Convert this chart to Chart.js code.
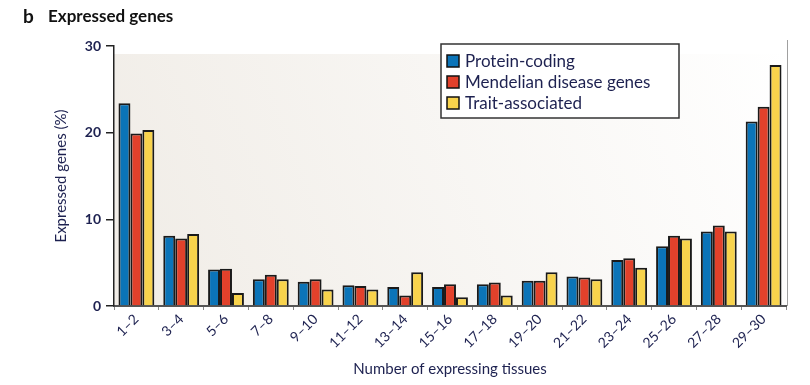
<!DOCTYPE html>
<html>
<head>
<meta charset="utf-8">
<script src="https://cdn.jsdelivr.net/npm/chart.js@4.4.1/dist/chart.umd.min.js"></script>
<style>
  html, body { margin: 0; padding: 0; background: #ffffff; }
  #wrap { width: 810px; height: 385px; position: relative; }
</style>
</head>
<body>
<div id="wrap"><canvas id="chart" width="810" height="385"></canvas></div>
<script>
// データ
const categories = ['1–2', '3–4', '5–6', '7–8', '9–10', '11–12', '13–14', '15–16',
                    '17–18', '19–20', '21–22', '23–24', '25–26', '27–28', '29–30'];
const proteinCoding = [23.4, 8.1, 4.2, 3.1, 2.8, 2.4, 2.2, 2.2, 2.5, 2.9, 3.4, 5.3, 6.9, 8.6, 21.3];
const mendelian     = [19.9, 7.8, 4.3, 3.6, 3.1, 2.3, 1.2, 2.5, 2.7, 2.9, 3.3, 5.5, 8.1, 9.3, 23.0];
const traitAssoc    = [20.3, 8.3, 1.5, 3.1, 1.9, 1.9, 3.9, 1.0, 1.2, 3.9, 3.1, 4.4, 7.8, 8.6, 27.8];
const yTicks = [0, 10, 20, 30];

const NAVY = '#1d2150';
const FONT = 'Lato, "Open Sans", sans-serif';

/**
 * プロット背景（薄いグラデーション）
 */
const panelBg = {
    id: 'panelBg',
    beforeDraw(chart) {
        const { ctx, chartArea: a } = chart;
        const g = ctx.createLinearGradient(a.left, a.bottom, a.right, a.top);
        g.addColorStop(0, '#f0ece6');
        g.addColorStop(1, '#ffffff');
        ctx.save();
        ctx.fillStyle = g;
        ctx.fillRect(a.left, a.top + 8, a.right - a.left, a.bottom - a.top - 8);
        ctx.strokeStyle = '#a0a0a0';
        ctx.lineWidth = 1;
        ctx.beginPath();
        ctx.moveTo(a.right + 1.5, a.top - 6);
        ctx.lineTo(a.right + 1.5, a.bottom);
        ctx.stroke();
        ctx.restore();
    }
};

/**
 * パネル見出しと凡例ボックス
 */
const overlay = {
    id: 'overlay',
    afterDraw(chart) {
        const { ctx } = chart;
        ctx.save();
        ctx.fillStyle = '#111';
        ctx.textBaseline = 'middle';
        ctx.font = 'bold 19px ' + FONT;
        ctx.fillText('b', 23, 17);
        ctx.font = 'bold 17px ' + FONT;
        ctx.fillText('Expressed genes', 48, 17);

        // legend
        const x0 = 441, y0 = 44, w = 238, h = 74;
        ctx.fillStyle = '#ffffff';
        ctx.fillRect(x0, y0, w, h);
        ctx.strokeStyle = '#333';
        ctx.lineWidth = 1.5;
        ctx.strokeRect(x0, y0, w, h);
        ctx.font = '17px ' + FONT;
        chart.data.datasets.forEach((ds, i) => {
            const cy = y0 + 17 + i * 21;
            ctx.fillStyle = ds.backgroundColor;
            ctx.fillRect(x0 + 6, cy - 6, 12, 12);
            ctx.strokeStyle = '#111';
            ctx.lineWidth = 1.5;
            ctx.strokeRect(x0 + 6, cy - 6, 12, 12);
            ctx.fillStyle = NAVY;
            ctx.fillText(ds.label, x0 + 24, cy + 1);
        });
        ctx.restore();
    }
};

function barSet(label, data, color) {
    return {
        label: label,
        data: data,
        backgroundColor: color,
        borderColor: '#1a1a1a',
        borderWidth: 2,
        categoryPercentage: 0.8,
        barPercentage: 1.0
    };
}

new Chart(document.getElementById('chart'), {
    type: 'bar',
    data: {
        labels: categories,
        datasets: [
            barSet('Protein-coding', proteinCoding, '#0b74b8'),
            barSet('Mendelian disease genes', mendelian, '#e2412b'),
            barSet('Trait-associated', traitAssoc, '#f8d34c')
        ]
    },
    options: {
        responsive: false,
        animation: false,
        layout: { padding: { left: 48, right: 24, top: 46, bottom: 3 } },
        plugins: { legend: { display: false }, tooltip: { enabled: false } },
        scales: {
            x: {
                afterFit: s => { s.height = 76; },
                grid: { drawOnChartArea: false, tickLength: 4, color: '#888' },
                border: { color: '#555', width: 2 },
                ticks: {
                    color: NAVY, font: { family: FONT, size: 14 },
                    minRotation: 45, maxRotation: 45, padding: 1, autoSkip: false
                },
                title: {
                    display: true, text: 'Number of expressing tissues',
                    color: NAVY, font: { family: FONT, size: 15 }, padding: 4
                }
            },
            y: {
                min: 0, max: 30,
                afterFit: s => { s.width = 66; },
                afterBuildTicks: s => { s.ticks = yTicks.map(v => ({ value: v })); },
                grid: { drawOnChartArea: false, tickLength: 8, color: '#222', lineWidth: 1.5 },
                border: { color: '#222', width: 1.5 },
                ticks: { color: NAVY, font: { family: FONT, size: 14, weight: 'bold' }, padding: 5 },
                title: {
                    display: true, text: 'Expressed genes (%)',
                    color: NAVY, font: { family: FONT, size: 15 }, padding: 4
                }
            }
        }
    },
    plugins: [panelBg, overlay]
});
</script>
</body>
</html>
